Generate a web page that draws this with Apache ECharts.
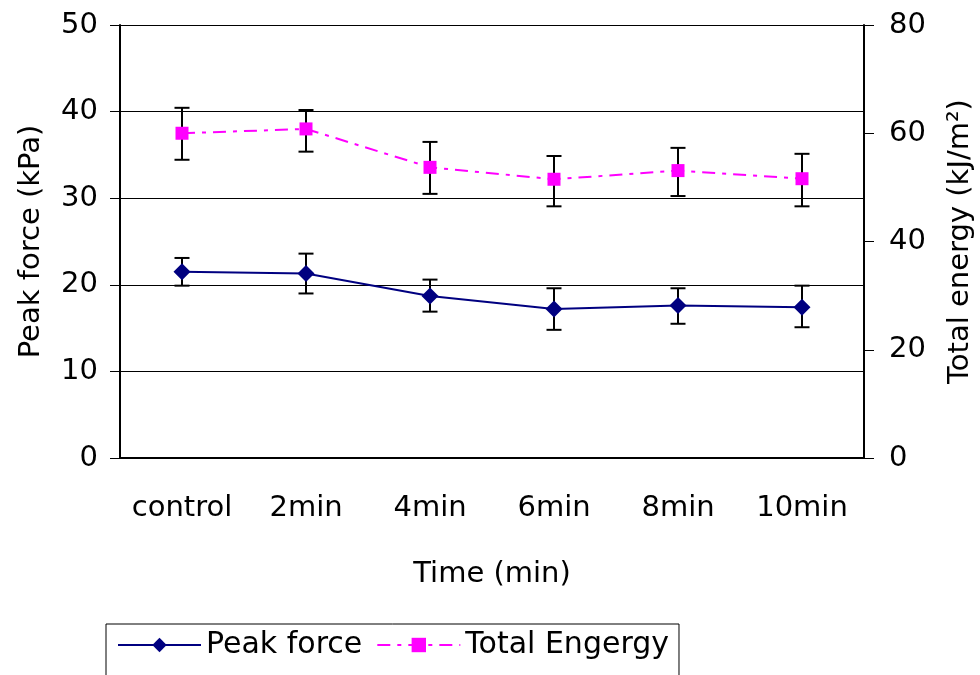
<!DOCTYPE html>
<html>
<head>
<meta charset="utf-8">
<script src="https://cdn.jsdelivr.net/npm/echarts@6/dist/echarts.min.js"></script>
<style>
  html, body { margin: 0; padding: 0; background: #fff; }
  #main { width: 980px; height: 675px; }
</style>
</head>
<body>
<div id="main"></div>
<script>
var categories = ['control', '2min', '4min', '6min', '8min', '10min'];
var peakForce = [21.5, 21.3, 18.7, 17.2, 17.6, 17.4];
var peakHigh = [23.1, 23.6, 20.6, 19.6, 19.6, 19.9];
var peakLow = [19.9, 19.0, 16.9, 14.8, 15.5, 15.1];
var energy = [60.0, 60.8, 53.7, 51.5, 53.1, 51.6];
var energyHigh = [64.7, 64.3, 58.4, 55.8, 57.3, 56.2];
var energyLow = [55.1, 56.6, 48.8, 46.5, 48.4, 46.5];

var FONT = 'DejaVu Sans';

// error bars: vertical line with caps
function errorBars(high, low, axisIdx) {
    var data = categories.map(function (c, i) { return [i, high[i], low[i]]; });
    return {
        type: 'custom',
        yAxisIndex: axisIdx,
        silent: true,
        z: 1,
        data: data,
        renderItem: function (params, api) {
            var top = api.coord([api.value(0), api.value(1)]);
            var bot = api.coord([api.value(0), api.value(2)]);
            var w = 7.5;
            var style = { stroke: '#000', lineWidth: 2 };
            return {
                type: 'group',
                children: [
                    { type: 'line', shape: { x1: top[0], y1: top[1], x2: bot[0], y2: bot[1] }, style: style },
                    { type: 'line', shape: { x1: top[0] - w, y1: top[1], x2: top[0] + w, y2: top[1] }, style: style },
                    { type: 'line', shape: { x1: bot[0] - w, y1: bot[1], x2: bot[0] + w, y2: bot[1] }, style: style }
                ]
            };
        }
    };
}

var chart = echarts.init(document.getElementById('main'));
var option = {
    backgroundColor: '#fff',
    animation: false,
    textStyle: { fontFamily: FONT },
    grid: { left: 120, right: 116, top: 25, height: 433, outerBoundsMode: 'none' },
    legend: {
        left: 106,
        top: 624,
        padding: [6, 10, 30, 11],
        borderColor: '#000',
        borderWidth: 1,
        itemWidth: 83,
        itemHeight: 18,
        itemGap: 14,
        textStyle: { fontSize: 30, color: '#000', fontFamily: FONT },
        data: ['Peak force', 'Total Engergy']
    },
    xAxis: {
        type: 'category',
        data: categories,
        name: 'Time (min)',
        nameLocation: 'middle',
        nameGap: 102,
        nameTextStyle: { fontSize: 29, color: '#000' },
        axisLine: { lineStyle: { color: '#000', width: 2 } },
        axisTick: { length: 10, lineStyle: { color: '#000' } },
        axisLabel: { fontSize: 29, color: '#000', margin: 36, interval: 0 }
    },
    yAxis: [{
        type: 'value',
        min: 0, max: 50, interval: 10,
        name: 'Peak force (kPa)',
        nameLocation: 'middle',
        nameGap: 74,
        nameTextStyle: { fontSize: 29, color: '#000' },
        axisLine: { show: true, lineStyle: { color: '#000', width: 2 } },
        axisTick: { show: true, length: 10, lineStyle: { color: '#000' } },
        axisLabel: { fontSize: 29, color: '#000', margin: 22 },
        splitLine: { show: true, lineStyle: { color: '#000', width: 1 } }
    }, {
        type: 'value',
        position: 'right',
        min: 0, max: 80, interval: 20,
        name: 'Total energy (kJ/m²)',
        nameLocation: 'middle',
        nameGap: 82,
        nameRotate: 90,
        nameTextStyle: { fontSize: 29, color: '#000' },
        axisLine: { show: true, lineStyle: { color: '#000', width: 2 } },
        axisTick: { show: true, length: 10, lineStyle: { color: '#000' } },
        axisLabel: { fontSize: 29, color: '#000', margin: 25 },
        splitLine: { show: false }
    }],
    series: [
        errorBars(peakHigh, peakLow, 0),
        errorBars(energyHigh, energyLow, 1),
        {
            name: 'Peak force',
            type: 'line',
            yAxisIndex: 0,
            data: peakForce,
            z: 3,
            symbol: 'diamond',
            symbolSize: 17,
            color: '#000080',
            itemStyle: { color: '#000080' },
            lineStyle: { color: '#000080', width: 2 }
        },
        {
            name: 'Total Engergy',
            type: 'line',
            yAxisIndex: 1,
            data: energy,
            z: 3,
            symbol: 'rect',
            symbolSize: 13,
            color: '#ff00ff',
            itemStyle: { color: '#ff00ff' },
            lineStyle: { color: '#ff00ff', width: 2, type: [13, 7, 4, 7] }
        }
    ]
};
chart.setOption(option);
</script>
</body>
</html>
